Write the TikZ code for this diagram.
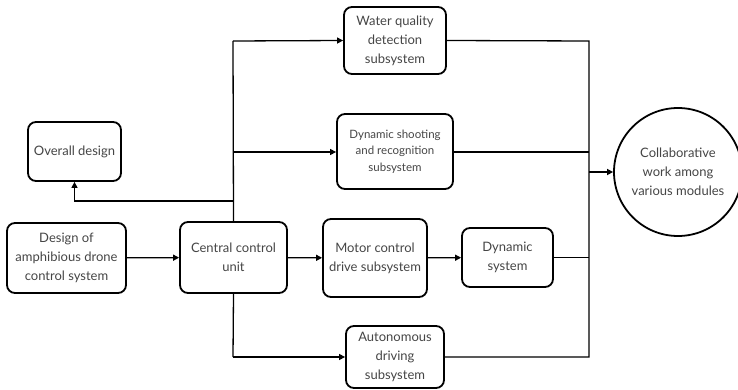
\documentclass[tikz,border=0pt]{standalone}
\usepackage{fontspec}
\setmainfont{Lato}
\usetikzlibrary{arrows.meta}
\definecolor{txt}{HTML}{454545}
\tikzset{
  box/.style={draw=black, line width=1.8pt, rounded corners=8pt, align=center,
    text=txt, font=\fontsize{13}{19}\selectfont, inner sep=0pt},
  conn/.style={draw=black, line width=1.3pt},
  arr/.style={conn, -{Triangle[length=6pt,width=6pt]}},
}
\begin{document}
\begin{tikzpicture}[x=1pt,y=-1pt]
\useasboundingbox (0,0) rectangle (738,390);
\begin{scope}
\clip (0,0) rectangle (738,390);
\node[box, minimum width=93pt, minimum height=59pt] (overall) at (74.5,151.5) {Overall design};
\node[box, minimum width=119pt, minimum height=70pt] (design) at (66.5,258) {Design of\\amphibious drone\\control system};
\node[box, minimum width=107pt, minimum height=71pt] (central) at (233.5,257.5) {Central control\\unit};
\node[box, minimum width=102pt, minimum height=67pt] (water) at (395,40.5) {Water quality\\detection\\subsystem};
\node[box, minimum width=116pt, minimum height=75pt, font=\fontsize{11.5}{16.5}\selectfont] (shoot) at (395,151.5) {Dynamic shooting\\and recognition\\subsystem};
\node[box, minimum width=104pt, minimum height=78pt] (motor) at (375,258) {Motor control\\drive subsystem};
\node[box, minimum width=91pt, minimum height=59pt] (dyn) at (507.5,257.5) {Dynamic\\system};
\node[box, minimum width=98pt, minimum height=62pt] (auto) at (395,357) {Autonomous\\driving\\subsystem};
\node[draw=black, line width=1.8pt, circle, minimum size=128pt, align=center, text=txt,
  font=\fontsize{13}{19}\selectfont, inner sep=0pt] (collab) at (678,172) {Collaborative\\work among\\various modules};

\coordinate (ttop) at (233,41);
\coordinate (tbot) at (233,357);
\coordinate (tshoot) at (233,152);
\coordinate (tover) at (233,201);
\coordinate (over) at (74.5,201);
\coordinate (btop) at (589,41);
\coordinate (bshoot) at (589,152);
\coordinate (bdyn) at (589,257.5);
\coordinate (bbot) at (589,357);
\coordinate (bmid) at (589,172);

\draw[arr] (design) -- (central);
\draw[arr] (central) -- (motor);
\draw[arr] (motor) -- (dyn);
\draw[conn] (central.north) -- (ttop);
\draw[conn] (central.south) -- (tbot);
\draw[arr] (ttop) -- (water.west);
\draw[arr] (tshoot) -- (tshoot -| shoot.west);
\draw[arr] (tbot) -- (auto.west);
\draw[arr] (tover) -- (over) -- (overall.south);
\draw[conn] (water.east) -- (btop) -- (bbot) -- (auto.east);
\draw[conn] (shoot.east |- bshoot) -- (bshoot);
\draw[conn] (dyn.east) -- (bdyn);
\draw[arr, line width=1.9pt] (bmid) -- (collab.west);
\end{scope}
\end{tikzpicture}
\end{document}
